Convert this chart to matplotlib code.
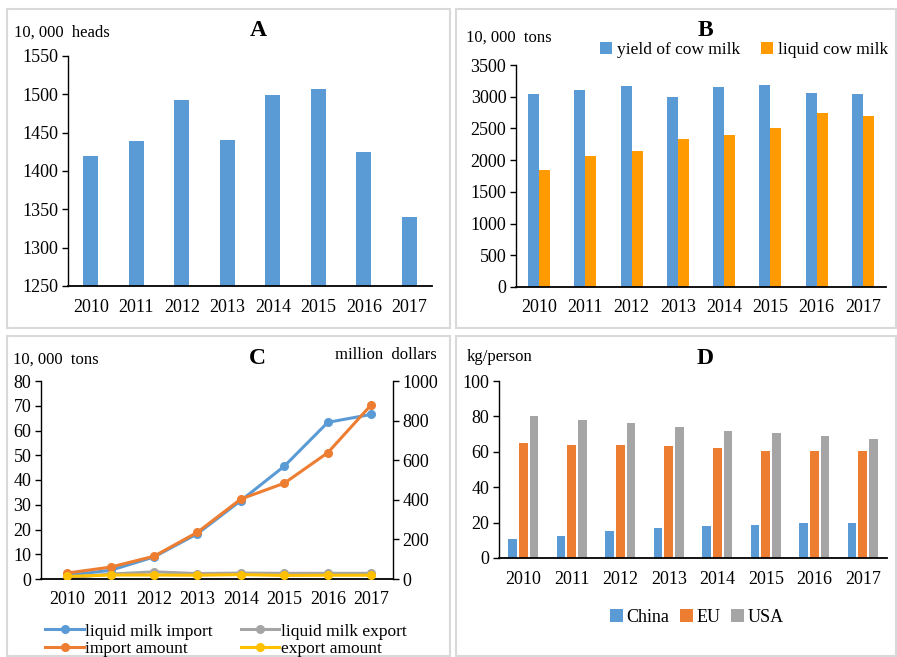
import matplotlib
matplotlib.use("Agg")
import matplotlib.pyplot as plt
from matplotlib.patches import Rectangle
import numpy as np

plt.rcParams['font.family'] = ['Liberation Serif', 'DejaVu Serif']

years = ['2010', '2011', '2012', '2013', '2014', '2015', '2016', '2017']

# Panel A: dairy cow stock (10,000 heads)
cow_stock = [1420, 1439, 1493, 1441, 1499, 1507, 1425, 1340]

# Panel B: (10,000 tons)
yield_cow_milk = [3038, 3109, 3175, 2995, 3160, 3180, 3064, 3039]
liquid_cow_milk = [1840, 2068, 2150, 2340, 2400, 2510, 2740, 2700]

# Panel C
liquid_milk_import = [1.5, 3.5, 8.9, 18.3, 31.7, 45.6, 63.3, 66.5]   # 10,000 tons
liquid_milk_export = [0.4, 2.0, 2.9, 2.2, 2.4, 2.3, 2.3, 2.3]         # 10,000 tons
import_amount = [30, 60, 115, 236, 404, 484, 638, 880]              # million dollars
export_amount = [13, 20, 20, 19, 22, 18, 19, 19]                     # million dollars

# Panel D: per capita consumption (kg/person)
china = [11, 12.5, 15.5, 17, 18, 18.5, 20, 20]
eu = [65, 64, 64, 63.5, 62, 60.5, 60.5, 60.5]
usa = [80, 78, 76.5, 74, 72, 70.5, 69, 67.5]

W, H = 897, 657
fig = plt.figure(figsize=(W / 100, H / 100), dpi=100)

def rect(x0, y0, x1, y1):
    return [x0 / W, 1 - y1 / H, (x1 - x0) / W, (y1 - y0) / H]

def fx(x):
    return x / W

def fy(y):
    return 1 - y / H

# panel frames
for (x0, y0, x1, y1) in [(7, 9, 450, 328), (456, 9, 896, 328), (7, 336, 450, 656), (456, 336, 896, 656)]:
    fig.patches.append(Rectangle((fx(x0), fy(y1)), (x1 - x0) / W, (y1 - y0) / H,
                                 transform=fig.transFigure, fill=False,
                                 edgecolor='#D9D9D9', linewidth=1.5))

TICK_FS = 13
UNIT_FS = 12
BLUE = '#5B9BD5'
ORANGE = '#ED7D31'
ORANGE_B = '#FF9A00'
GRAY = '#A5A5A5'
YELLOW = '#FFC000'

def style(ax):
    for s in ['top', 'right']:
        ax.spines[s].set_visible(False)
    ax.spines['left'].set_linewidth(1.0)
    ax.spines['bottom'].set_linewidth(1.3)
    ax.tick_params(axis='x', length=0, pad=9, labelsize=TICK_FS)
    ax.tick_params(axis='y', length=4, width=1, direction='out', labelsize=TICK_FS, pad=3)

x = np.arange(len(years))

# ---------- Panel A ----------
axA = fig.add_axes(rect(68, 56, 432, 286))
axA.bar(x, cow_stock, width=0.33, color=BLUE)
axA.set_ylim(1250, 1550)
axA.set_yticks(np.arange(1250, 1551, 50))
axA.set_xlim(-0.5, 7.5)
axA.set_xticks(x, years)
style(axA)
fig.text(fx(14), fy(33), '10, 000  heads', fontsize=UNIT_FS, va='center', ha='left')
fig.text(fx(258), fy(30), 'A', fontsize=17, fontweight='bold', va='center', ha='center')

# ---------- Panel B ----------
axB = fig.add_axes(rect(516, 65, 886, 287))
bw = 0.24
bB1 = axB.bar(x - bw / 2, yield_cow_milk, width=bw, color=BLUE, label='yield of cow milk')
bB2 = axB.bar(x + bw / 2, liquid_cow_milk, width=bw, color=ORANGE_B, label='liquid cow milk')
axB.set_ylim(0, 3500)
axB.set_yticks(np.arange(0, 3501, 500))
axB.set_xlim(-0.5, 7.5)
axB.set_xticks(x, years)
style(axB)
fig.text(fx(466), fy(38), '10, 000  tons', fontsize=UNIT_FS, va='center', ha='left')
fig.text(fx(705), fy(30), 'B', fontsize=17, fontweight='bold', va='center', ha='center')
fig.legend(handles=[bB1, bB2], loc='center', bbox_to_anchor=(fx(744), fy(50)), ncol=2,
           frameon=False, fontsize=12.5, handlelength=0.7, handleheight=0.7,
           handletextpad=0.3, columnspacing=1.2, borderaxespad=0)

# ---------- Panel C ----------
axC = fig.add_axes(rect(41, 381, 393, 579))
axC2 = axC.twinx()
lw, ms = 2.2, 5.5
l1, = axC.plot(x, liquid_milk_import, color=BLUE, lw=lw, marker='o', ms=ms, label='liquid milk import')
l2, = axC.plot(x, liquid_milk_export, color=GRAY, lw=lw, marker='o', ms=ms, label='liquid milk export')
l3, = axC2.plot(x, import_amount, color=ORANGE, lw=lw, marker='o', ms=ms, label='import amount')
l4, = axC2.plot(x, export_amount, color=YELLOW, lw=lw, marker='o', ms=ms, label='export amount')
axC.set_ylim(0, 80)
axC.set_yticks(np.arange(0, 81, 10))
axC2.set_ylim(0, 1000)
axC2.set_yticks(np.arange(0, 1001, 200))
axC.set_xlim(-0.6, 7.5)
axC.set_xticks(x, years)
style(axC)
for s in ['top', 'left', 'bottom']:
    axC2.spines[s].set_visible(False)
axC2.spines['right'].set_linewidth(1.0)
axC2.tick_params(axis='y', length=4, width=1, direction='out', labelsize=TICK_FS, pad=3)
fig.text(fx(13), fy(360), '10, 000  tons', fontsize=UNIT_FS, va='center', ha='left')
fig.text(fx(437), fy(355), 'million  dollars', fontsize=UNIT_FS, va='center', ha='right')
fig.text(fx(257), fy(358), 'C', fontsize=17, fontweight='bold', va='center', ha='center')
fig.legend(handles=[l1, l3, l2, l4], loc='center', bbox_to_anchor=(fx(226), fy(640)), ncol=2,
           frameon=False, fontsize=12.5, handlelength=2.2, handletextpad=0.1,
           columnspacing=1.6, labelspacing=0.05, borderaxespad=0)

# ---------- Panel D ----------
axD = fig.add_axes(rect(499, 381, 887, 558))
dw = 0.18
step = 0.22
bD1 = axD.bar(x - step, china, width=dw, color=BLUE, label='China')
bD2 = axD.bar(x, eu, width=dw, color=ORANGE, label='EU')
bD3 = axD.bar(x + step, usa, width=dw, color=GRAY, label='USA')
axD.set_ylim(0, 100)
axD.set_yticks(np.arange(0, 101, 20))
axD.set_xlim(-0.5, 7.5)
axD.set_xticks(x, years)
style(axD)
fig.text(fx(467), fy(357), 'kg/person', fontsize=UNIT_FS, va='center', ha='left')
fig.text(fx(705), fy(358), 'D', fontsize=17, fontweight='bold', va='center', ha='center')
fig.legend(handles=[bD1, bD2, bD3], loc='center', bbox_to_anchor=(fx(697), fy(617)), ncol=3,
           frameon=False, fontsize=13, handlelength=0.7, handleheight=0.7,
           handletextpad=0.2, columnspacing=0.6, borderaxespad=0)

fig.savefig('out.png', dpi=100)
